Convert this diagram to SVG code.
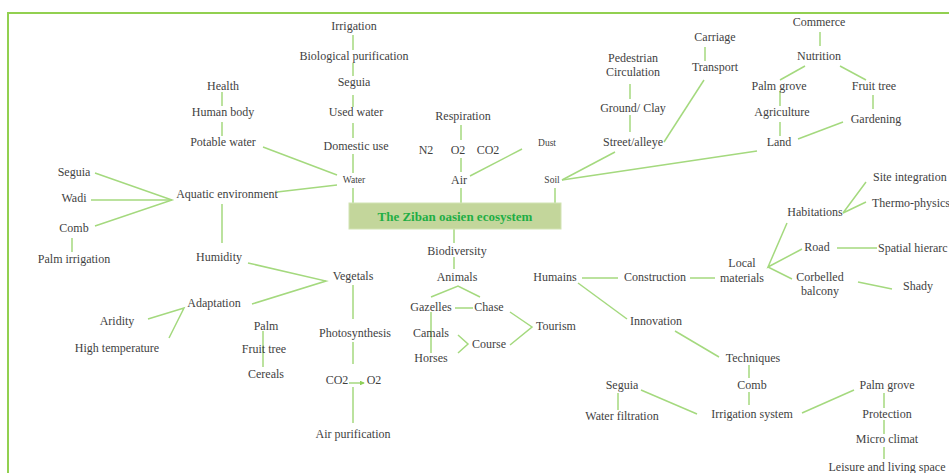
<svg xmlns="http://www.w3.org/2000/svg" width="949" height="473" viewBox="0 0 949 473">
  <style>
    .t { font-family: "Liberation Serif", "Times New Roman", serif; font-size: 12px; fill: #3f3f3f; text-anchor: middle; }
    .s { font-size: 9.5px; }
    .l { text-anchor: start; }
    .c line, .c polyline { stroke: #a4d97e; stroke-width: 1.5; fill: none; }
    .title { font-family: "Liberation Serif", "Times New Roman", serif; font-size: 13px; font-weight: bold; fill: #1fae45; text-anchor: middle; }
  </style>
  <defs>
    <marker id="arrow" viewBox="0 0 6 6" refX="5" refY="3" markerWidth="3.2" markerHeight="3.2" orient="auto">
      <path d="M0,0 L6,3 L0,6 z" fill="#8fd05a"/>
    </marker>
  </defs>
  <rect width="949" height="473" fill="#ffffff"/>
  <!-- outer frame -->
  <polyline points="8,480 8,13 960,13" fill="none" stroke="#92d050" stroke-width="2"/>

  <!-- connectors -->
  <g id="connectors" class="c">
    <!-- water branch -->
    <line x1="353" y1="35" x2="353" y2="50"/>
    <line x1="353" y1="63" x2="353" y2="76"/>
    <line x1="353" y1="95" x2="353" y2="107"/>
    <line x1="353" y1="123" x2="353" y2="138"/>
    <line x1="353" y1="154" x2="353" y2="173"/>
    <line x1="353" y1="188" x2="353" y2="203"/>
    <line x1="263" y1="147" x2="337" y2="175"/>
    <line x1="277" y1="192" x2="337" y2="185"/>
    <line x1="222" y1="92" x2="222" y2="106"/>
    <line x1="222" y1="122" x2="222" y2="136"/>
    <polyline points="95,173 172,200 95,226"/>
    <line x1="91" y1="200" x2="172" y2="200"/>
    <line x1="222" y1="204" x2="222" y2="243"/>
    <line x1="72" y1="238" x2="72" y2="252"/>
    <!-- air branch -->
    <line x1="461" y1="125" x2="461" y2="140"/>
    <line x1="461" y1="158" x2="461" y2="172"/>
    <line x1="470" y1="176" x2="522" y2="149"/>
    <line x1="461" y1="188" x2="461" y2="203"/>
    <!-- soil branch -->
    <line x1="555" y1="188" x2="555" y2="203"/>
    <line x1="562" y1="180" x2="615" y2="152"/>
    <line x1="562" y1="180" x2="757" y2="151"/>
    <line x1="630" y1="84" x2="630" y2="99"/>
    <line x1="630" y1="115" x2="630" y2="132"/>
    <line x1="664" y1="142" x2="704" y2="80"/>
    <line x1="705" y1="47" x2="705" y2="61"/>
    <line x1="820" y1="32" x2="820" y2="46"/>
    <line x1="805" y1="66" x2="780" y2="80"/>
    <line x1="840" y1="66" x2="866" y2="80"/>
    <line x1="780" y1="91" x2="780" y2="106"/>
    <line x1="780" y1="122" x2="780" y2="136"/>
    <line x1="873" y1="95" x2="873" y2="109"/>
    <line x1="843" y1="122" x2="798" y2="139"/>
    <!-- biodiversity branch -->
    <line x1="454" y1="229" x2="454" y2="243"/>
    <line x1="454" y1="257" x2="454" y2="269"/>
    <polyline points="248,263 326,281 252,304"/>
    <polyline points="148,319 184,308 169,338"/>
    <line x1="353" y1="285" x2="353" y2="319"/>
    <line x1="353" y1="342" x2="353" y2="364"/>
    <line x1="349" y1="383" x2="364" y2="383" marker-end="url(#arrow)"/>
    <line x1="353" y1="387" x2="353" y2="423"/>
    <line x1="263" y1="331" x2="263" y2="367"/>
    <polyline points="431,297 458,286 480,297"/>
    <line x1="455" y1="308" x2="473" y2="308"/>
    <line x1="431" y1="312" x2="431" y2="353"/>
    <polyline points="458,335 468,344 458,353"/>
    <polyline points="510,312 532,327 510,345"/>
    <!-- human branch -->
    <line x1="582" y1="278" x2="618" y2="278"/>
    <line x1="578" y1="283" x2="627" y2="319"/>
    <line x1="690" y1="278" x2="715" y2="278"/>
    <polyline points="787,223 768,267 802,249"/>
    <line x1="768" y1="267" x2="792" y2="279"/>
    <polyline points="866,182 843,213 866,202"/>
    <line x1="837" y1="248" x2="877" y2="248"/>
    <line x1="858" y1="282" x2="892" y2="289"/>
    <line x1="675" y1="331" x2="719" y2="357"/>
    <line x1="749" y1="365" x2="749" y2="378"/>
    <line x1="749" y1="392" x2="749" y2="405"/>
    <line x1="641" y1="390" x2="697" y2="414"/>
    <line x1="618" y1="393" x2="618" y2="410"/>
    <line x1="802" y1="413" x2="854" y2="390"/>
    <line x1="884" y1="393" x2="884" y2="408"/>
    <line x1="884" y1="420" x2="884" y2="434"/>
    <line x1="884" y1="447" x2="884" y2="459"/>
  </g>

  <!-- central node -->
  <g id="ecosystem">
    <rect x="349" y="203" width="212" height="26" fill="#c3d69b" stroke="#d2e3b3" stroke-width="1"/>
    <text class="title" x="455" y="221">The Ziban oasien ecosystem</text>
  </g>

  <!-- water -->
  <g id="water"><text class="t s" x="354" y="183">Water</text></g>
  <g id="domestic-use"><text class="t" x="356" y="150">Domestic use</text></g>
  <g id="used-water"><text class="t" x="356" y="116">Used water</text></g>
  <g id="seguia-top"><text class="t" x="354" y="86">Seguia</text></g>
  <g id="bio-purification"><text class="t" x="354" y="60">Biological purification</text></g>
  <g id="irrigation"><text class="t" x="354" y="30">Irrigation</text></g>
  <g id="potable-water"><text class="t" x="223" y="146">Potable water</text></g>
  <g id="human-body"><text class="t" x="223" y="116">Human body</text></g>
  <g id="health"><text class="t" x="223" y="90">Health</text></g>
  <g id="aquatic-env"><text class="t" x="227" y="198">Aquatic environment</text></g>
  <g id="seguia-left"><text class="t" x="74" y="176">Seguia</text></g>
  <g id="wadi"><text class="t" x="74" y="202">Wadi</text></g>
  <g id="comb-left"><text class="t" x="74" y="232">Comb</text></g>
  <g id="palm-irrigation"><text class="t" x="74" y="263">Palm irrigation</text></g>
  <g id="humidity"><text class="t" x="219" y="261">Humidity</text></g>

  <!-- air -->
  <g id="air"><text class="t" x="459" y="184">Air</text></g>
  <g id="n2"><text class="t" x="426" y="154">N2</text></g>
  <g id="o2"><text class="t" x="458" y="154">O2</text></g>
  <g id="co2"><text class="t" x="488" y="154">CO2</text></g>
  <g id="respiration"><text class="t" x="463" y="120">Respiration</text></g>
  <g id="dust"><text class="t s" x="547" y="146">Dust</text></g>

  <!-- soil -->
  <g id="soil"><text class="t s" x="552" y="183">Soil</text></g>
  <g id="street"><text class="t" x="633" y="146">Street/alleye</text></g>
  <g id="ground"><text class="t" x="633" y="112">Ground/ Clay</text></g>
  <g id="pedestrian"><text class="t" x="633" y="62">Pedestrian</text><text class="t" x="633" y="76">Circulation</text></g>
  <g id="transport"><text class="t" x="715" y="71">Transport</text></g>
  <g id="carriage"><text class="t" x="715" y="41">Carriage</text></g>
  <g id="land"><text class="t" x="779" y="146">Land</text></g>
  <g id="agriculture"><text class="t" x="782" y="116">Agriculture</text></g>
  <g id="palm-grove-top"><text class="t" x="779" y="90">Palm grove</text></g>
  <g id="nutrition"><text class="t" x="819" y="60">Nutrition</text></g>
  <g id="commerce"><text class="t" x="819" y="26">Commerce</text></g>
  <g id="fruit-tree-top"><text class="t" x="874" y="90">Fruit tree</text></g>
  <g id="gardening"><text class="t" x="876" y="123">Gardening</text></g>

  <!-- biodiversity -->
  <g id="biodiversity"><text class="t" x="457" y="255">Biodiversity</text></g>
  <g id="vegetals"><text class="t" x="353" y="280">Vegetals</text></g>
  <g id="adaptation"><text class="t" x="214" y="307">Adaptation</text></g>
  <g id="aridity"><text class="t" x="117" y="325">Aridity</text></g>
  <g id="high-temp"><text class="t" x="117" y="352">High temperature</text></g>
  <g id="palm"><text class="t" x="266" y="330">Palm</text></g>
  <g id="fruit-tree"><text class="t" x="264" y="353">Fruit tree</text></g>
  <g id="cereals"><text class="t" x="266" y="378">Cereals</text></g>
  <g id="photosynthesis"><text class="t" x="355" y="337">Photosynthesis</text></g>
  <g id="co2-o2"><text class="t" x="337" y="384">CO2</text><text class="t" x="374" y="384">O2</text></g>
  <g id="air-purification"><text class="t" x="353" y="438">Air purification</text></g>
  <g id="animals"><text class="t" x="457" y="281">Animals</text></g>
  <g id="gazelles"><text class="t" x="431" y="311">Gazelles</text></g>
  <g id="chase"><text class="t" x="489" y="311">Chase</text></g>
  <g id="camals"><text class="t" x="431" y="337">Camals</text></g>
  <g id="horses"><text class="t" x="431" y="362">Horses</text></g>
  <g id="course"><text class="t" x="489" y="348">Course</text></g>
  <g id="tourism"><text class="t" x="556" y="330">Tourism</text></g>

  <!-- humans -->
  <g id="humains"><text class="t" x="555" y="281">Humains</text></g>
  <g id="construction"><text class="t" x="655" y="281">Construction</text></g>
  <g id="local-materials"><text class="t" x="742" y="267">Local</text><text class="t" x="742" y="282">materials</text></g>
  <g id="habitations"><text class="t" x="815" y="216">Habitations</text></g>
  <g id="site-integration"><text class="t l" x="873" y="181">Site integration</text></g>
  <g id="thermo-physics"><text class="t l" x="872" y="207">Thermo-physics</text></g>
  <g id="road"><text class="t" x="817" y="251">Road</text></g>
  <g id="spatial-hierarchy"><text class="t l" x="878" y="252">Spatial hierarc</text></g>
  <g id="corbelled-balcony"><text class="t" x="820" y="281">Corbelled</text><text class="t" x="820" y="295">balcony</text></g>
  <g id="shady"><text class="t" x="918" y="290">Shady</text></g>
  <g id="innovation"><text class="t" x="656" y="325">Innovation</text></g>
  <g id="techniques"><text class="t" x="753" y="362">Techniques</text></g>
  <g id="comb"><text class="t" x="752" y="389">Comb</text></g>
  <g id="irrigation-system"><text class="t" x="752" y="418">Irrigation system</text></g>
  <g id="seguia-bottom"><text class="t" x="622" y="389">Seguia</text></g>
  <g id="water-filtration"><text class="t" x="622" y="420">Water filtration</text></g>
  <g id="palm-grove"><text class="t" x="887" y="389">Palm grove</text></g>
  <g id="protection"><text class="t" x="887" y="418">Protection</text></g>
  <g id="micro-climat"><text class="t" x="887" y="443">Micro climat</text></g>
  <g id="leisure"><text class="t" x="887" y="471">Leisure and living space</text></g>
</svg>
